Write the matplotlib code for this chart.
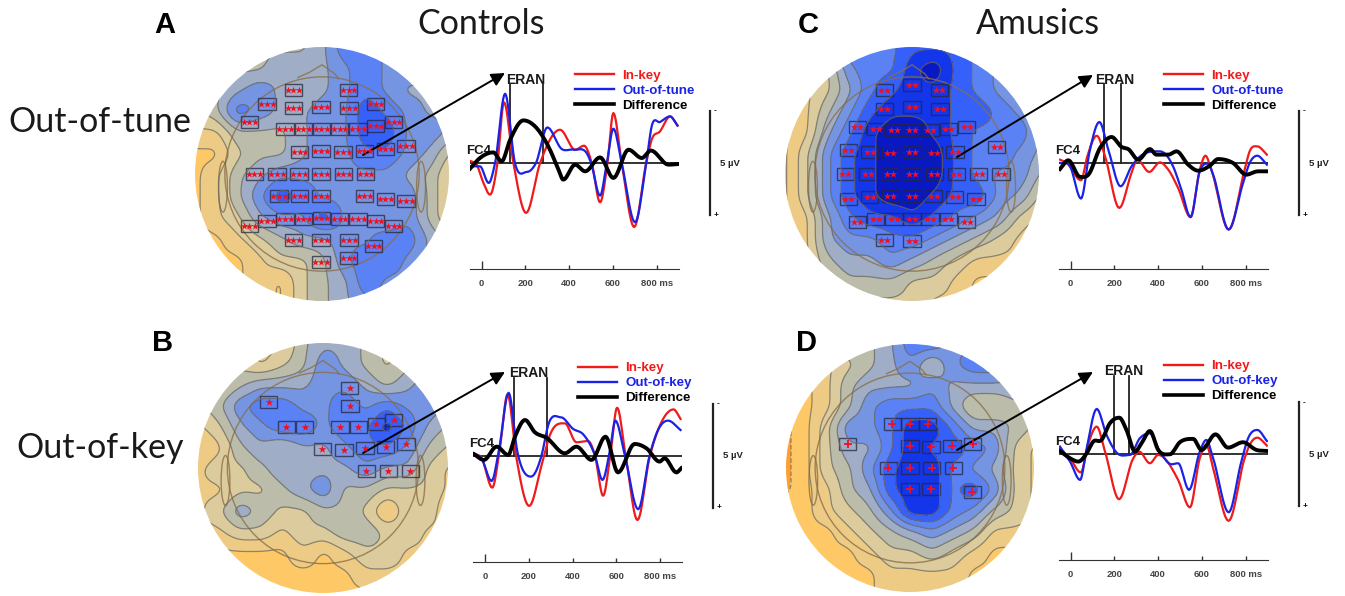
import numpy as np
import matplotlib
matplotlib.use("Agg")
import matplotlib.pyplot as plt
from matplotlib.colors import ListedColormap, BoundaryNorm
from matplotlib.patches import Circle, Rectangle, Ellipse

plt.rcParams["font.family"] = ["Liberation Sans", "DejaVu Sans"]

# Topography levels (-1 dark orange ... 9 deep blue), 13x13 cells
map_a = [
    [3, 3, 3, 3, 3, 3, 4, 6, 6, 5, 5, 5, 5],
    [3, 3, 3, 3, 4, 4, 4, 5, 6, 5, 5, 5, 5],
    [3, 3, 4, 5, 4, 3, 4, 5, 6, 5, 4, 4, 4],
    [2, 3, 6, 5, 4, 4, 5, 5, 7, 6, 5, 4, 4],
    [1, 1, 3, 3, 3, 4, 5, 5, 7, 7, 5, 5, 4],
    [0, 0, 2, 3, 3, 4, 5, 5, 6, 6, 5, 4, 2],
    [0, 1, 3, 4, 5, 5, 5, 5, 5, 5, 4, 3, 1],
    [0, 1, 3, 5, 7, 6, 5, 5, 5, 5, 5, 3, 1],
    [0, 1, 2, 4, 5, 5, 7, 5, 5, 4, 5, 3, 1],
    [0, 0, 1, 2, 3, 4, 4, 5, 5, 6, 6, 4, 3],
    [0, 0, 0, 1, 2, 2, 3, 5, 6, 6, 5, 4, 3],
    [0, 0, 0, 1, 0, 2, 3, 4, 6, 5, 5, 4, 3],
    [0, 0, 0, 1, 0, 2, 3, 4, 5, 5, 4, 4, 3],
]
map_b = [
    [2, 2, 2, 1, 1, 3, 4, 4, 3, 2, 3, 4, 4],
    [2, 2, 2, 1, 2, 3, 5, 4, 3, 2, 3, 4, 4],
    [2, 2, 3, 4, 4, 4, 5, 5, 4, 3, 4, 5, 5],
    [2, 3, 5, 6, 6, 5, 5, 6, 5, 6, 5, 5, 4],
    [1, 2, 4, 5, 6, 6, 5, 6, 6, 8, 6, 4, 3],
    [0, 1, 3, 4, 3, 4, 4, 5, 6, 6, 5, 3, 2],
    [1, 2, 2, 3, 4, 4, 4, 4, 5, 4, 4, 2, 1],
    [1, 1, 2, 2, 3, 4, 5, 3, 3, 2, 2, 2, 1],
    [1, 2, 4, 3, 2, 2, 3, 3, 2, 0, 2, 2, 0],
    [1, 1, 2, 2, 1, 2, 2, 3, 3, 2, 2, 1, 1],
    [0, 0, 0, 0, 0, 1, 0, 1, 2, 2, 1, 1, 1],
    [0, 0, 0, 0, 0, 0, 0, 0, 1, 1, 1, 1, 1],
    [0, 0, 0, 0, 0, 0, 0, 0, 0, 1, 1, 1, 1],
]
map_c = [
    [5, 5, 5, 6, 6, 6, 7, 7, 7, 6, 5, 5, 5],
    [1, 2, 2, 5, 6, 6, 8, 9, 7, 6, 5, 5, 4],
    [1, 1, 2, 4, 6, 7, 8, 8, 7, 6, 5, 4, 4],
    [0, 1, 3, 5, 7, 8, 8, 8, 7, 7, 6, 5, 4],
    [0, 1, 4, 6, 8, 9, 9, 8, 7, 6, 6, 6, 4],
    [0, 2, 5, 7, 8, 9, 9, 9, 7, 6, 6, 5, 4],
    [0, 2, 5, 7, 8, 9, 9, 9, 7, 6, 5, 5, 3],
    [0, 2, 5, 7, 8, 9, 9, 8, 7, 7, 5, 4, 2],
    [0, 1, 4, 6, 7, 7, 8, 7, 6, 5, 4, 2, 1],
    [0, 1, 4, 5, 5, 6, 6, 5, 4, 3, 2, 1, 0],
    [0, 1, 3, 4, 4, 5, 4, 3, 2, 1, 1, 1, 0],
    [1, 1, 2, 3, 3, 3, 2, 2, 1, 0, 0, 0, 0],
    [1, 1, 2, 2, 2, 2, 2, 1, 1, 0, 0, 0, 0],
]
map_d = [
    [1, 1, 2, 3, 3, 4, 6, 6, 5, 5, 5, 5, 4],
    [0, 1, 1, 2, 3, 4, 5, 3, 5, 6, 6, 5, 5],
    [0, 0, 1, 3, 4, 4, 4, 5, 4, 4, 4, 4, 4],
    [-1, 0, 1, 3, 5, 6, 6, 6, 4, 2, 2, 3, 3],
    [-1, 0, 2, 5, 5, 6, 8, 8, 6, 4, 4, 3, 2],
    [-1, 0, 2, 4, 4, 6, 8, 7, 7, 6, 5, 2, 1],
    [-1, 0, 2, 3, 5, 7, 8, 8, 6, 5, 4, 2, 1],
    [-1, 0, 1, 3, 4, 7, 8, 8, 6, 7, 5, 2, 1],
    [0, 0, 1, 2, 3, 5, 8, 8, 6, 5, 3, 2, 1],
    [0, 0, 0, 1, 2, 3, 4, 5, 4, 3, 1, 1, 1],
    [0, 0, 0, 0, 1, 2, 2, 3, 2, 1, 0, 0, 0],
    [0, 0, 0, 0, 0, 1, 1, 1, 1, 0, 0, 0, 0],
    [0, 0, 0, 0, 0, 1, 1, 1, 1, 0, 0, 0, 0],
]
level_colours = ["#fd9f35", "#ffc866", "#eecb85", "#dccb9c", "#bcbcaa", "#a0adc6",
                 "#7595e2", "#5a82f5", "#3560fa", "#1436ea", "#0718c4"]

# Significant electrodes, in px of a 3x crop of each map
boxes_a = [(310, 149), (476, 149), (231, 191), (310, 204), (393, 201), (477, 204), (557, 191),
           (178, 245), (285, 266), (340, 268), (394, 268), (449, 268), (504, 266), (557, 258), (611, 245),
           (329, 336), (393, 334), (459, 336), (523, 332), (586, 327), (648, 318),
           (193, 401), (261, 401), (327, 401), (393, 401), (460, 401), (527, 401),
           (267, 468), (329, 467), (393, 467), (523, 468), (586, 476), (648, 483),
           (178, 558), (231, 544), (285, 537), (340, 537), (394, 534), (449, 536), (504, 536), (557, 543), (611, 558),
           (310, 600), (393, 601), (477, 600), (551, 617), (393, 667), (476, 655)]
boxes_b = [(236, 186), (479, 144), (480, 198), (289, 260), (344, 262), (450, 262), (505, 260), (559, 252),
           (611, 239), (397, 328), (462, 329), (525, 325), (587, 321), (648, 312), (529, 393), (595, 393), (661, 393)]
boxes_c = [(313, 151), (396, 135), (478, 151), (313, 206), (396, 202), (480, 206),
           (232, 260), (287, 267), (342, 270), (396, 269), (450, 269), (505, 266), (560, 260),
           (205, 329), (269, 335), (331, 338), (396, 336), (461, 338), (525, 335), (650, 320),
           (196, 403), (263, 403), (330, 403), (396, 403), (463, 403), (529, 403), (596, 403), (663, 403),
           (205, 477), (269, 471), (331, 469), (396, 468), (461, 469), (524, 470), (588, 477),
           (232, 545), (287, 537), (342, 537), (396, 536), (450, 537), (505, 537), (560, 545),
           (313, 601), (396, 602)]
boxes_d = [(337, 253), (390, 253), (443, 253), (203, 312), (390, 318), (453, 320), (516, 317), (578, 312),
           (325, 383), (390, 383), (455, 383), (520, 383), (390, 448), (453, 448), (577, 456)]

# Waveforms: ms and uV (negative is up)
a_red_t = [-53, -23, 8, 38, 72, 102, 145, 203, 267, 358, 427, 468, 503, 541, 575, 602, 640, 697, 752, 777, 815, 861, 895]
a_red_v = [-0.1, 0.08, 0.96, 1.52, 0, -2.92, 0, 2.4, 0, -1.6, -0.64, -0.83, 0, 1.89, 0, -2.4, 0, 3.08, 0, -1.12, -1.52, -2.24, -1.8]
a_blue_t = [-53, -8, 32, 61, 107, 152, 206, 248, 300, 366, 419, 488, 500, 541, 572, 602, 640, 701, 752, 777, 815, 861, 895]
a_blue_v = [0.16, 0.16, 0.96, 0, -3.33, 0, 0.43, 0, -1.71, -0.67, -0.64, -0.32, 0, 1.57, 0, -1.65, 0, 2.85, 0, -1.76, -1.97, -2.24, -1.8]
a_diff_t = [-53, -8, 53, 91, 130, 191, 244, 312, 351, 373, 427, 473, 541, 602, 671, 732, 773, 854, 899]
a_diff_v = [0.27, -0.24, -0.51, -0.08, -1.12, -2.05, -1.76, -0.64, 0.32, 0.8, 0.08, 0.4, -0.27, 0.72, -0.64, -0.24, -0.6, 0.08, 0.05]

b_red_t = [-50, -15, 33, 68, 103, 144, 202, 259, 297, 365, 418, 471, 502, 540, 573, 604, 643, 697, 753, 791, 862, 894]
b_red_v = [-0.13, 0.11, 1.52, -0.37, -2.96, 0.11, 2.4, 0.43, -1.01, -1.57, -0.66, -0.72, -0.05, 1.91, -0.05, -2.32, 0, 3.08, 0.03, -1.25, -2.24, -1.78]
b_blue_t = [-50, -15, 30, 65, 108, 148, 210, 259, 289, 347, 403, 449, 502, 537, 570, 596, 639, 700, 753, 791, 837, 894]
b_blue_v = [-0.13, 0.14, 1.2, -0.37, -3.04, -0.21, 0.99, -0.05, -1.49, -1.86, -1.3, -1.04, -0.05, 1.15, -0.21, -1.7, -0.05, 2.56, -0.05, -1.25, -1.7, -1.25]
b_diff_t = [-50, -5, 53, 106, 137, 183, 228, 281, 365, 418, 487, 551, 608, 684, 738, 798, 821, 875, 897]
b_diff_v = [-0.08, 0.19, -0.45, -0.05, -0.93, -1.73, -1.14, -0.88, -0.13, -0.45, 0.19, -0.93, 0.79, -0.58, -0.37, 0.27, 0.11, 0.79, 0.59]

c_red_t = [-49, -18, 47, 76, 119, 157, 222, 278, 304, 359, 408, 446, 491, 548, 590, 616, 643, 722, 795, 818, 853, 897]
c_red_v = [-0.16, 0, 0.83, -0.32, -1.31, -0.32, 2.16, 0.48, -0.16, 0.43, -0.03, 0.32, 1.2, 2.6, 0.32, -0.35, 0.32, 3.2, 0.32, -0.56, -0.8, -0.4]
c_blue_t = [-49, -3, 47, 88, 131, 172, 228, 278, 309, 408, 468, 506, 548, 590, 628, 651, 722, 788, 818, 853, 897]
c_blue_v = [0, 0.16, 1.71, -0.64, -1.97, -0.64, 1.12, 0.16, -0.24, -0.56, 0.16, 1.28, 2.6, 0.4, 0.03, 0.56, 3.2, 0.96, 0, -0.35, 0.08]
c_diff_t = [-49, -11, 43, 81, 134, 187, 233, 263, 309, 362, 392, 446, 484, 537, 583, 636, 674, 742, 803, 856, 897]
c_diff_v = [0.29, -0.13, 0.67, 0.56, -0.72, -1.25, -0.77, -0.67, -0.16, -0.67, -0.4, -0.4, -0.56, 0.08, 0.37, 0.13, -0.19, 0, 0.56, 0.4, 0.4]

d_red_t = [-49, -3, 46, 81, 119, 157, 221, 286, 313, 362, 400, 491, 545, 590, 620, 651, 722, 795, 818, 853, 897]
d_red_v = [-0.29, 0.19, 0.87, -0.53, -1.33, -0.13, 2.16, 0.19, -0.13, 0.43, 0.03, 1.23, 2.55, 0.19, -0.45, 0.67, 3.2, 0.19, -0.45, -0.8, -0.42]
d_blue_t = [-49, -3, 43, 73, 119, 164, 210, 271, 316, 362, 408, 461, 491, 541, 590, 620, 651, 722, 780, 811, 853, 897]
d_blue_v = [-0.37, 0.35, 1.23, -0.29, -2.18, -0.93, -0.08, 0.03, -0.77, -1.01, -0.13, 0.48, 0.43, 1.71, -0.13, -0.69, 0.19, 2.79, 0.35, -0.77, -1.17, -0.64]
d_diff_t = [-49, -3, 35, 73, 103, 141, 179, 222, 255, 294, 324, 362, 400, 453, 499, 560, 598, 662, 719, 788, 849, 897]
d_diff_v = [-0.16, 0.19, 0.35, -0.05, -0.61, -0.69, -1.49, -1.76, -1.17, -0.13, -0.53, -1.12, -0.21, 0, -0.58, -0.74, -0.21, -0.96, -0.32, -0.58, -0.21, -0.16]

tick_ms = [0, 200, 400, 600, 800]
tick_text = ["0", "200", "400", "600", "800 ms"]


def smooth(t, v):
    # hermite curve through the read points, flat at the peaks
    t, v = np.array(t, float), np.array(v, float)
    m = np.gradient(v, t)
    for i in range(1, len(v) - 1):
        if (v[i] - v[i - 1]) * (v[i + 1] - v[i]) <= 0:
            m[i] = 0
    xs, ys = [], []
    for i in range(len(t) - 1):
        h = t[i + 1] - t[i]
        s = np.linspace(0, 1, 12)
        xs.append(t[i] + s * h)
        ys.append((2*s**3 - 3*s**2 + 1) * v[i] + (s**3 - 2*s**2 + s) * h * m[i]
                  + (-2*s**3 + 3*s**2) * v[i + 1] + (s**3 - s**2) * h * m[i + 1])
    return np.concatenate(xs), np.concatenate(ys)


def fine_field(grid, n=20):
    # blow the coarse cells up and soften them so the contours run round
    g = np.array(grid, float)
    pad = 4
    g = np.pad(g, pad, mode="edge")
    idx = np.arange(g.shape[0])
    fine = np.linspace(0, g.shape[0] - 1, (g.shape[0] - 1) * n + 1)
    g = np.array([np.interp(fine, idx, row) for row in g])
    g = np.array([np.interp(fine, idx, col) for col in g.T]).T
    kernel = np.ones(n // 2) / (n // 2)
    for _ in range(2):
        g = np.apply_along_axis(lambda r: np.convolve(r, kernel, mode="same"), 0, g)
        g = np.apply_along_axis(lambda r: np.convolve(r, kernel, mode="same"), 1, g)
    return g[pad * n:-pad * n, pad * n:-pad * n]


fig = plt.figure(figsize=(13.45, 5.96), dpi=100)
main = fig.add_axes([0, 0, 1, 1])
main.set_xlim(0, 1345)
main.set_ylim(596, 0)
main.axis("off")

cmap = ListedColormap(level_colours)
bands = np.arange(-1.5, 10.5)
norm = BoundaryNorm(bands, cmap.N)


def topo(grid, cx, cy, r, boxes, ox, oy, marker, n_marks, size):
    # the field is smoothed a little, so lift it back by a quarter level
    f = fine_field(grid) + 0.25
    step = (r + 1) / 6
    xs = cx + np.linspace(-6, 6, f.shape[1]) * step
    ys = cy + np.linspace(-6, 6, f.shape[0]) * step
    clip = Circle((cx, cy), r, transform=main.transData)
    cf = main.contourf(xs, ys, f, levels=bands, cmap=cmap, norm=norm, extend="both")
    cl = main.contour(xs, ys, f, levels=bands[1:-1], colors="#6f6a5c", linewidths=0.9, alpha=0.75)
    cf.set_clip_path(clip)
    cl.set_clip_path(clip)

    # head outline
    hr = r * 0.765
    hc = "#8a6f48"
    main.add_patch(Circle((cx, cy), hr, fill=False, ec=hc, lw=1, alpha=0.8))
    main.plot([cx - 0.19 * r, cx - 0.1 * r, cx, cx + 0.1 * r, cx + 0.13 * r],
              [cy - 0.76 * r, cy - 0.8 * r, cy - 0.86 * r, cy - 0.79 * r, cy - 0.75 * r], color=hc, lw=1, alpha=0.8)
    for side in (-1, 1):
        main.add_patch(Ellipse((cx + side * 0.78 * r, cy + 0.1 * r), 0.07 * r, 0.4 * r, fill=False, ec=hc, lw=1, alpha=0.8))

    for bx, by in boxes:
        x, y = ox + bx / 3, oy + by / 3
        main.add_patch(Rectangle((x - 8.8, y - 6), 17.6, 12, fill=False, ec="#26263c", lw=1, alpha=0.75))
        offs = (np.arange(n_marks) - (n_marks - 1) / 2) * 5.8
        main.scatter(x + offs, [y] * n_marks, marker=marker, s=size, c="#f01020", linewidths=1.3 if marker == "+" else 0, zorder=4)


topo(map_a, 322, 174, 127, boxes_a, 190, 40, "*", 3, 30)
topo(map_c, 912, 174, 127, boxes_c, 780, 40, "*", 2, 32)
topo(map_b, 323, 468, 125, boxes_b, 190, 340, "*", 1, 36)
topo(map_d, 910, 468, 124, boxes_d, 780, 340, "+", 1, 38)


def erp(x0, base, top_erp, red, blue, diff, eran, eran_xy, leg_x, leg_y, name, scale_x):
    px_ms = 175 / 800
    px_uv = 20.8
    left, right = x0 - 12, x0 + 197
    axis_y = base + 106
    top = base - 100
    ax = fig.add_axes([left / 1345, 1 - axis_y / 596, (right - left) / 1345, (axis_y - top) / 596])
    ax.patch.set_visible(False)
    ax.set_xlim(-12 / px_ms, 197 / px_ms)
    ax.set_ylim(106 / px_uv, -100 / px_uv)
    for s in ("top", "left", "right"):
        ax.spines[s].set_visible(False)
    ax.spines["bottom"].set_color("#333333")
    ax.set_yticks([])
    ax.set_xticks(tick_ms)
    ax.set_xticklabels(tick_text, fontsize=6.8, fontweight="bold", color="#444444")
    ax.tick_params(axis="x", direction="in", length=3, width=1, pad=7, color="#333333")
    ax.xaxis.get_major_ticks()[0].tick1line.set_markersize(5.5)

    ax.axhline(0, color="#222222", lw=1.3, zorder=2)
    for e in eran:
        ax.plot([e, e], [0, -(base - top_erp) / px_uv], color="#222222", lw=1.3, zorder=2)
    lr, = ax.plot(*smooth(*red), color="#f01a1a", lw=1.6, zorder=3, label="In-key")
    lb, = ax.plot(*smooth(*blue), color="#1a22e6", lw=1.6, zorder=3, label=name)
    ld, = ax.plot(*smooth(*diff), color="black", lw=2.8, zorder=4, label="Difference")

    leg = ax.legend(handles=[lr, lb, ld], loc="upper left", bbox_to_anchor=(leg_x, leg_y),
                    bbox_transform=main.transData, frameon=False, labelcolor="linecolor",
                    prop={"family": "Liberation Sans", "weight": "bold", "size": 9.6},
                    handlelength=2.95, handletextpad=0.6, labelspacing=0.2, borderpad=0, borderaxespad=0)
    for h in leg.get_lines():
        h.set_linewidth(1.7)
    leg.get_lines()[2].set_linewidth(2.6)

    main.text(eran_xy[0], eran_xy[1], "ERAN", ha="center", va="center", fontsize=10, fontweight="bold", color="#1a1a1a")
    main.text(x0 - 3, base - 12, "FC4", ha="center", va="center", fontsize=9.5, fontweight="bold", color="#1a1a1a")
    main.plot([scale_x, scale_x], [base - 52, base + 52], color="#222222", lw=1.6)
    main.text(scale_x + 4, base - 52, "-", ha="left", va="center", fontsize=6, fontweight="bold")
    main.text(scale_x + 4, base + 52, "+", ha="left", va="center", fontsize=6, fontweight="bold")
    main.text(scale_x + 20, base, "5 µV", ha="center", va="center", fontsize=6.8, fontweight="bold", color="#222222")


erp(481.7, 163, 84, (a_red_t, a_red_v), (a_blue_t, a_blue_v), (a_diff_t, a_diff_v), [130, 282], (526, 80), 575, 69.5, "Out-of-tune", 710)
erp(485, 456, 378, (b_red_t, b_red_v), (b_blue_t, b_blue_v), (b_diff_t, b_diff_v), [133, 282], (529, 373), 578, 362, "Out-of-key", 713)
erp(1070.7, 163, 84, (c_red_t, c_red_v), (c_blue_t, c_blue_v), (c_diff_t, c_diff_v), [154, 229], (1115, 80), 1164, 69.5, "Out-of-tune", 1299)
erp(1070.7, 454.3, 376, (d_red_t, d_red_v), (d_blue_t, d_blue_v), (d_diff_t, d_diff_v), [196, 266], (1124, 371), 1164, 360, "Out-of-key", 1299)

# arrows from FC4 to the waveforms
for start, end in [((363, 155), (505, 73)), ((957, 157), (1093, 75)), ((363, 453), (505, 372)), ((957, 450), (1093, 372))]:
    main.annotate("", xy=end, xytext=start, xycoords="data",
                  arrowprops=dict(arrowstyle="-|>", color="black", lw=1.4, mutation_scale=20, shrinkA=0, shrinkB=0))

body = {"family": "Lato", "fontsize": 24.5, "color": "#1a1a1a", "ha": "center", "va": "center"}
main.text(481, 24, "Controls", **body)
main.text(1038, 24, "Amusics", **body)
main.text(100, 122, "Out-of-tune", **body)
main.text(100, 448, "Out-of-key", **body)
for s, x, y in [("A", 165, 25), ("C", 808, 25), ("B", 163, 343), ("D", 807, 343)]:
    main.text(x, y, s, fontsize=21, fontweight="bold", color="black", ha="center", va="center")

fig.savefig("out.png", dpi=100)
